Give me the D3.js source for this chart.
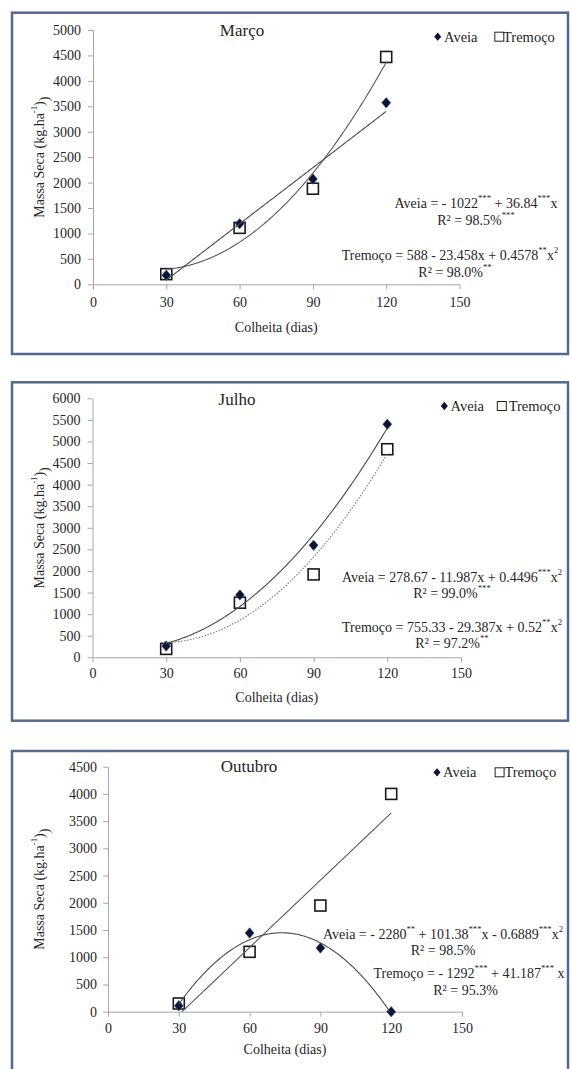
<!DOCTYPE html>
<html>
<head>
<meta charset="utf-8">
<script src="https://cdn.jsdelivr.net/npm/d3@7"></script>
<style>
  body { margin: 0; background: #fff; }
  svg text { font-family: "Liberation Serif", "Times New Roman", Tinos, "DejaVu Serif", serif !important; fill: #262626; }
</style>
</head>
<body>
<div id="chart"></div>
<script>
// harvest days (x) and axis ticks
var days = [30, 60, 90, 120];
var xTicks = [0, 30, 60, 90, 120, 150];
var months = ["Março", "Julho", "Outubro"];
var yMax = [5000, 6000, 4500];

// dry mass (kg/ha)
var aveiaMarco = [180, 1190, 2070, 3570];
var tremocoMarco = [200, 1110, 1880, 4470];
var aveiaJulho = [260, 1445, 2595, 5400];
var tremocoJulho = [195, 1265, 1920, 4820];
var aveiaOutubro = [110, 1445, 1170, 0];
var tremocoOutubro = [150, 1100, 1950, 4000];

// trendline coefficients (a + b x + c x^2), as printed on each panel
var aveiaCoef = [[-1022, 36.84, 0], [278.67, -11.987, 0.4496], [-2280, 101.38, -0.6889]];
var tremocoCoef = [[588, -23.458, 0.4578], [755.33, -29.387, 0.52], [-1292, 41.187, 0]];

// equation labels, {..} = superscript
var aveiaEq = ["Aveia = - 1022{***} + 36.84{***}x",
               "Aveia =  278.67 - 11.987x + 0.4496{***}x{2}",
               "Aveia = - 2280{**} + 101.38{***}x - 0.6889{***}x{2}"];
var aveiaR2 = ["R² = 98.5%{***}", "R² = 99.0%{***}", "R² = 98.5%"];
var tremocoEq = ["Tremoço = 588 - 23.458x + 0.4578{**}x{2}",
                 "Tremoço =  755.33 - 29.387x + 0.52{**}x{2}",
                 "Tremoço = - 1292{***} + 41.187{***} x"];
var tremocoR2 = ["R² = 98.0%{**}", "R² = 97.2%{**}", "R² = 95.3%"];

var aveiaData = [aveiaMarco, aveiaJulho, aveiaOutubro];
var tremocoData = [tremocoMarco, tremocoJulho, tremocoOutubro];

// panel layout
var layout = [
  { top: 12.7, bottom: 354, x0: 93, x1: 459.5, yBot: 284.3, yTop: 30, titleX: 242, titleY: 30,
    legY: 36.7, legX: [437.7, 444, 499.3, 503], xTitleY: 327, tickPad: 8, labelPad: 7,
    eq: [[476, 203], [476, 220], [450, 255], [455, 272]] },
  { top: 382.3, bottom: 720.7, x0: 92.5, x1: 461, yBot: 657.3, yTop: 398.3, titleX: 237, titleY: 399.3,
    legY: 406, legX: [444.3, 450.5, 501.8, 508.7], xTitleY: 697, tickPad: 6, labelPad: 7,
    eq: [[452, 576.7], [452, 593.3], [452, 626.7], [452, 642.7]] },
  { top: 751, bottom: 1095, x0: 108, x1: 462, yBot: 1011.7, yTop: 766.7, titleX: 249, titleY: 766.7,
    legY: 772.3, legX: [437, 443, 499.6, 504.4], xTitleY: 1049, tickPad: 6, labelPad: 6,
    eq: [[443, 933.5], [443, 950], [469, 973], [465.5, 990]] }
];

var svg = d3.select("#chart").append("svg")
  .attr("width", 571)
  .attr("height", 1069)
  .attr("font-family", "'Liberation Serif', serif");

var diamond = d3.symbol().type(d3.symbolDiamond2);

function addLabel(g, str, x, y, size) {
  var t = g.append("text")
    .attr("x", x).attr("y", y)
    .attr("text-anchor", "middle")
    .attr("dominant-baseline", "central")
    .style("font-size", size + "px");
  var parts = str.split(/(\{[^}]*\})/).filter(function(p) { return p.length; });
  var up = false;
  parts.forEach(function(p) {
    if (p[0] == "{") {
      t.append("tspan").attr("dy", -5).style("font-size", (size * 0.62) + "px").text(p.slice(1, -1));
      up = true;
    } else {
      t.append("tspan").attr("dy", up ? 5 : 0).text(p);
      up = false;
    }
  });
  return t;
}

layout.forEach(function(L, i) {
  var g = svg.append("g");

  // panel frame
  g.append("rect")
    .attr("x", 12).attr("y", L.top)
    .attr("width", 556).attr("height", L.bottom - L.top)
    .attr("fill", "none")
    .attr("stroke", "#56688e")
    .attr("stroke-width", 2.5);

  var x = d3.scaleLinear().domain([0, 150]).range([L.x0, L.x1]);
  var y = d3.scaleLinear().domain([0, yMax[i]]).range([L.yBot, L.yTop]);

  // axes
  var xAxis = g.append("g")
    .attr("transform", "translate(0," + L.yBot + ")")
    .call(d3.axisBottom(x).tickValues(xTicks).tickSize(5).tickPadding(L.tickPad).tickSizeOuter(0));
  var yAxis = g.append("g")
    .attr("transform", "translate(" + L.x0 + ",0)")
    .call(d3.axisLeft(y).ticks(yMax[i] / 500).tickFormat(d3.format("d"))
      .tickSize(5).tickPadding(L.labelPad).tickSizeOuter(0));

  [xAxis, yAxis].forEach(function(a) {
    a.attr("font-family", null);
    a.select(".domain").attr("stroke", "#a6a6a6");
    a.selectAll(".tick line").attr("stroke", "#a6a6a6");
    a.selectAll(".tick text")
      .style("font-size", "14px")
      .attr("fill", "#333");
  });

  // clip for trendlines
  g.append("clipPath").attr("id", "clip" + i)
    .append("rect")
    .attr("x", L.x0).attr("y", L.yTop)
    .attr("width", L.x1 - L.x0).attr("height", L.yBot - L.yTop);

  // markers
  g.append("g").selectAll("rect")
    .data(days.map(function(d, k) { return [d, tremocoData[i][k]]; }))
    .enter().append("rect")
    .attr("x", function(d) { return x(d[0]) - 5.5; })
    .attr("y", function(d) { return y(d[1]) - 5.5; })
    .attr("width", 11).attr("height", 11)
    .attr("fill", "#fff")
    .attr("stroke", "#1a1a1a")
    .attr("stroke-width", 1.6);

  g.append("g").selectAll("path")
    .data(days.map(function(d, k) { return [d, aveiaData[i][k]]; }))
    .enter().append("path")
    .attr("d", diamond.size(64))
    .attr("transform", function(d) { return "translate(" + x(d[0]) + "," + y(d[1]) + ") scale(0.9,1.05)"; })
    .attr("fill", "#0b1530")
    .attr("stroke", "#3b5a9a")
    .attr("stroke-width", 0.6);

  // trendlines
  var xs = d3.range(30, 120.001, 0.5);
  var line = d3.line().x(function(d) { return x(d[0]); }).y(function(d) { return y(d[1]); });
  function fit(c) { return xs.map(function(v) { return [v, c[0] + c[1] * v + c[2] * v * v]; }); }

  g.append("path")
    .attr("d", line(fit(tremocoCoef[i])))
    .attr("clip-path", "url(#clip" + i + ")")
    .attr("fill", "none")
    .attr("stroke", i == 1 ? "#7a7a7a" : "#595959")
    .attr("stroke-width", 1.1)
    .attr("stroke-dasharray", i == 1 ? "1.5,1.5" : null);

  g.append("path")
    .attr("d", line(fit(aveiaCoef[i])))
    .attr("clip-path", "url(#clip" + i + ")")
    .attr("fill", "none")
    .attr("stroke", "#4a4a4a")
    .attr("stroke-width", 1.1);

  // titles
  g.append("text")
    .attr("x", L.titleX).attr("y", L.titleY)
    .attr("text-anchor", "middle")
    .attr("dominant-baseline", "central")
    .style("font-size", "17px")
    .attr("fill", "#1a1a1a")
    .text(months[i]);

  g.append("text")
    .attr("x", (L.x0 + L.x1) / 2).attr("y", L.xTitleY)
    .attr("text-anchor", "middle")
    .attr("dominant-baseline", "central")
    .style("font-size", "14px")
    .text("Colheita (dias)");

  var yt = addLabel(g, "Massa Seca (kg.ha{-1})", 0, 0, 14);
  yt.append("tspan").attr("dy", 5).text(")");
  yt.attr("transform", "translate(39," + ((L.yTop + L.yBot) / 2) + ") rotate(-90)");

  // legend
  g.append("path")
    .attr("d", diamond.size(40))
    .attr("transform", "translate(" + L.legX[0] + "," + L.legY + ") scale(0.9,1.05)")
    .attr("fill", "#0b1530");
  g.append("text")
    .attr("x", L.legX[1]).attr("y", L.legY)
    .attr("dominant-baseline", "central")
    .style("font-size", "14.5px")
    .text("Aveia");
  g.append("rect")
    .attr("x", L.legX[2] - 4.5).attr("y", L.legY - 4.5)
    .attr("width", 9).attr("height", 9)
    .attr("fill", "#fff")
    .attr("stroke", "#222")
    .attr("stroke-width", 1);
  g.append("text")
    .attr("x", L.legX[3]).attr("y", L.legY)
    .attr("dominant-baseline", "central")
    .style("font-size", "14.5px")
    .text("Tremoço");

  // equations
  addLabel(g, aveiaEq[i], L.eq[0][0], L.eq[0][1], 14);
  addLabel(g, aveiaR2[i], L.eq[1][0], L.eq[1][1], 14);
  addLabel(g, tremocoEq[i], L.eq[2][0], L.eq[2][1], 14);
  addLabel(g, tremocoR2[i], L.eq[3][0], L.eq[3][1], 14);
});
</script>
</body>
</html>
